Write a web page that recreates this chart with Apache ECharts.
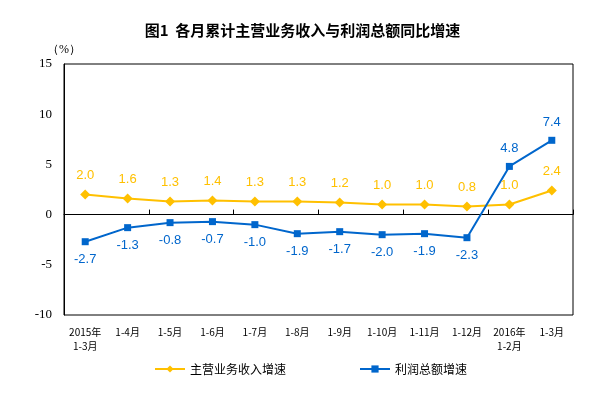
<!DOCTYPE html>
<html><head><meta charset="utf-8">
<script src="https://cdn.jsdelivr.net/npm/echarts@6/dist/echarts.min.js"></script>
<style>html,body{margin:0;padding:0;background:#fff}#c{width:605px;height:393px}</style>
</head><body><div id="c"></div>
<script>
const categories = ['2015年\n1-3月','1-4月','1-5月','1-6月','1-7月','1-8月','1-9月','1-10月','1-11月','1-12月','2016年\n1-2月','1-3月'];
const revenueGrowth = [2.0,1.6,1.3,1.4,1.3,1.3,1.2,1.0,1.0,0.8,1.0,2.4];
const profitGrowth = [-2.7,-1.3,-0.8,-0.7,-1.0,-1.9,-1.7,-2.0,-1.9,-2.3,4.8,7.4];
const yTicks = [-10,-5,0,5,10,15];
const seriesNames = ['主营业务收入增速','利润总额增速'];
const YELLOW = '#FFC000', BLUE = '#0066CC';

const chart = echarts.init(document.getElementById('c'), null, {renderer:'canvas'});
chart.setOption({
  animation:false,
  title:{text:'图1  各月累计主营业务收入与利润总额同比增速', left:'center', top:18,
    textStyle:{fontFamily:'Noto Sans CJK SC', fontWeight:'bold', fontSize:15, color:'#000'}},
  grid:{left:64, right:32, top:64, bottom:78, show:true, borderColor:'#000', borderWidth:1, backgroundColor:'transparent'},
  legend:{bottom:13, left:149, itemGap:73, itemWidth:30, itemHeight:9,
    textStyle:{fontFamily:'Noto Sans CJK SC', fontSize:12, color:'#000'},
    data:seriesNames},
  xAxis:[
    {type:'category', data:categories, boundaryGap:true,
     axisLine:{onZero:true, lineStyle:{color:'#000', width:1}},
     axisTick:{show:true, inside:true, length:5, lineStyle:{color:'#000'}},
     axisLabel:{show:false}},
    {type:'category', data:categories, boundaryGap:true, position:'bottom',
     axisLine:{show:false}, axisTick:{show:false},
     axisLabel:{interval:0, margin:10, fontFamily:'Noto Sans CJK SC', fontSize:10, lineHeight:14, color:'#000'}}
  ],
  yAxis:{type:'value', min:yTicks[0], max:yTicks[yTicks.length-1], interval:5,
    name:'（%）', nameLocation:'end', nameGap:8,
    nameTextStyle:{fontFamily:'Liberation Serif', fontSize:12, color:'#000', align:'center'},
    axisLine:{show:true, lineStyle:{color:'#000'}}, axisTick:{show:false}, splitLine:{show:false},
    axisLabel:{fontFamily:'Liberation Serif', fontSize:13, color:'#000', margin:12}},
  series:[
    {name:seriesNames[0], type:'line', data:revenueGrowth, xAxisIndex:0,
     symbol:'diamond', symbolSize:10, showAllSymbol:true,
     lineStyle:{color:YELLOW, width:2}, itemStyle:{color:YELLOW},
     label:{show:true, position:'top', distance:8, color:YELLOW, fontFamily:'Liberation Sans', fontSize:13,
       formatter:p=>p.value.toFixed(1)}},
    {name:seriesNames[1], type:'line', data:profitGrowth.map((v,i)=>({value:v,
       label:{position: i>=10 ? 'top':'bottom'}})), xAxisIndex:0,
     symbol:'rect', symbolSize:7, showAllSymbol:true,
     lineStyle:{color:BLUE, width:2}, itemStyle:{color:BLUE},
     label:{show:true, position:'bottom', distance:8, color:BLUE, fontFamily:'Liberation Sans', fontSize:13,
       formatter:p=>p.value.toFixed(1)}}
  ]
});
</script></body></html>
